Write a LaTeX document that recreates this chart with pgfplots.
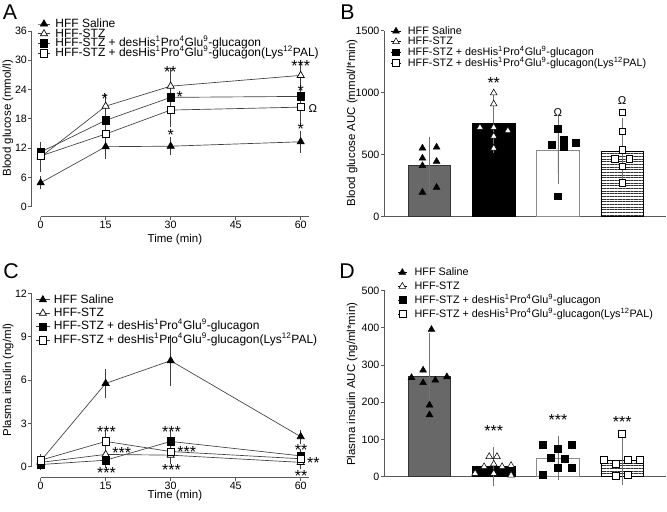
\documentclass[border=0pt]{standalone}
\usepackage{pgfplots}
\pgfplotsset{compat=1.18}
\usepackage{fontspec}
\setmainfont{Liberation Sans}
\usetikzlibrary{patterns.meta}

\definecolor{axgray}{gray}{0.35}
\definecolor{lngray}{gray}{0.25}
\definecolor{ebgray}{gray}{0.45}
\definecolor{barg}{RGB}{104,104,104}

\newcommand{\desH}{HFF-STZ + desHis\textsuperscript{1}Pro\textsuperscript{4}Glu\textsuperscript{9}-glucagon}
\newcommand{\desL}{HFF-STZ + desHis\textsuperscript{1}Pro\textsuperscript{4}Glu\textsuperscript{9}-glucagon(Lys\textsuperscript{12}PAL)}

\tikzset{
  ast/.style={font=\fontsize{12}{12}\selectfont, anchor=base, yshift=-7pt, inner sep=0pt},
  om/.style={font=\fontsize{8.5}{9}\selectfont, anchor=center, inner sep=0pt},
}

\pgfplotsset{
  gp/.style={
    scale only axis, clip=false, enlargelimits=false,
    axis line style={-, draw=axgray, line width=0.6pt},
    tick style={draw=axgray, line width=0.6pt},
    tick align=outside, major tick length=2.25pt, minor tick num=0,
    ticklabel style={font=\fontsize{8}{9}\selectfont, inner sep=1pt},
    /pgf/number format/assume math mode=true,
    /pgf/number format/1000 sep={},
    label style={font=\fontsize{8.6}{9}\selectfont},
  },
  lg/.style={
    legend cell align=left,
    legend style={draw=none, fill=none, inner sep=0pt, outer sep=0pt,
      font=\fontsize{9}{10}\selectfont, anchor=north west,
      nodes={inner sep=0pt, text height=6.4pt, text depth=1.5pt}},
  },
  lgs/.style={
    legend cell align=left,
    legend style={draw=none, fill=none, inner sep=0pt, outer sep=0pt,
      font=\fontsize{8.1}{9}\selectfont, anchor=north west,
      nodes={inner sep=0pt, text height=6.4pt, text depth=1.5pt}},
  },
  ln/.style={draw=lngray, line width=0.5pt,
    /pgfplots/error bars/y dir=both, /pgfplots/error bars/y explicit,
    /pgfplots/error bars/error bar style={lngray, line width=0.5pt},
    /pgfplots/error bars/error mark options={lngray, line width=0.5pt, mark size=3.75pt}},
  eb/.style={
    /pgfplots/error bars/y dir=both, /pgfplots/error bars/y explicit,
    /pgfplots/error bars/error bar style={ebgray, line width=0.6pt},
    /pgfplots/error bars/error mark options={ebgray, line width=0.6pt, mark size=8.1pt}},
  pts/.style={only marks, mark options={draw=black, line width=0.4pt}},
}

\begin{document}
\begin{tikzpicture}
\useasboundingbox (0,0) rectangle (500.25pt,383.25pt);

% ---------------- A ----------------
\begin{axis}[gp, lg, at={(23.6pt,220.7pt)}, anchor=south west,
  width=208.1pt, height=139.3pt,
  xmin=-2.12, xmax=61.9, ymin=-2.05, ymax=36,
  axis x line*=bottom, axis y line*=left,
  x axis line style={shorten <=6.9pt}, y axis line style={shorten <=7.5pt},
  xtick={0,15,30,45,60}, ytick={0,6,12,18,24,30,36},
  xlabel={Time (min)}, ylabel={Blood glucose (mmol/l)},
  xlabel style={at={(rel axis cs:0.517,-0.125)}, anchor=center},
  ylabel style={at={(rel axis cs:-0.0847,0.53)}, anchor=center},
  legend style={at={(0.022,1.066)}, row sep=-0.6pt, /tikz/every odd column/.append style={column sep=3.75pt}},
  legend image code/.code={\draw[mark repeat=2,mark phase=2,#1] plot coordinates {(0cm,0cm) (0.16cm,0cm) (0.32cm,0cm)};},
]
\addplot[ln, mark=triangle*, mark options={draw=black, fill=black, mark size=3.1pt}]
  coordinates {(0,4.9) +- (0,0.3) (15,12.3) +- (0,1.5) (30,12.4) +- (0,0.8) (60,13.3) +- (0,1.2)};
\addlegendentry{HFF Saline}
\addplot[ln, mark=triangle*, mark options={draw=black, fill=white, mark size=3.1pt}]
  coordinates {(0,10.2) +- (0,2.0) (15,20.6) +- (0,1.4) (30,24.7) +- (0,2.7) (60,26.9) +- (0,1.9)};
\addlegendentry{HFF-STZ}
\addplot[ln, mark=square*, mark options={draw=black, fill=black, mark size=2.75pt}]
  coordinates {(0,11.2) +- (0,0.5) (15,17.7) +- (0,1.0) (30,22.4) +- (0,1.2) (60,22.6) +- (0,1.0)};
\addlegendentry{\desH}
\addplot[ln, mark=square*, mark options={draw=black, fill=white, mark size=2.75pt}]
  coordinates {(0,10.4) +- (0,0.6) (15,14.9) +- (0,1.95) (30,19.8) +- (0,2.4) (60,20.4) +- (0,2.2)};
\addlegendentry{\desL}
\node[ast] at (axis cs:14.8,22.9) {*};
\node[ast] at (axis cs:29.9,28.4) {**};
\node[ast] at (axis cs:32.1,23.3) {*};
\node[ast] at (axis cs:30,15.5) {*};
\node[ast] at (axis cs:60,29.7) {***};
\node[ast] at (axis cs:60,24.5) {*};
\node[ast] at (axis cs:60,16.8) {*};
\node[om] at (axis cs:62.8,20.2) {Ω};
\end{axis}

% ---------------- B ----------------
\begin{axis}[gp, lgs, at={(288pt,221pt)}, anchor=south west,
  width=211.5pt, height=139.2pt,
  xmin=-0.709, xmax=3.683, ymin=0, ymax=1500,
  axis x line*=bottom, axis y line*=left,
  xtick=\empty, ytick={0,500,1000,1500},
  ylabel={Blood glucose AUC (mmol/l*min)},
  ylabel style={at={(rel axis cs:-0.1125,0.503)}, anchor=center},
  legend style={at={(0.0256,1.026)}, row sep=0pt, /tikz/every odd column/.append style={column sep=5.3pt}},
  legend image code/.code={\path (0cm,0cm) -- (0.24cm,0cm); \draw[#1] plot coordinates {(0.12cm,0cm)};},
]
\addplot[ybar, bar width=0.66, bar shift=0pt, fill=barg, draw=black!80, line width=0.5pt, forget plot, eb]
  coordinates {(0,412) +- (0,143)};
\addplot[ybar, bar width=0.66, bar shift=0pt, fill=black, draw=black, line width=0.5pt, forget plot, eb]
  coordinates {(1,754) +- (0,153)};
\addplot[ybar, bar width=0.66, bar shift=0pt, fill=white, draw=black!45, line width=0.6pt, forget plot, eb]
  coordinates {(2,533) +- (0,188)};
\addplot[ybar, bar width=0.66, bar shift=0pt, fill=white, pattern={Lines[angle=0,distance=2pt,line width=0.7pt]}, pattern color=black!80, draw=black, line width=0.5pt, forget plot, eb]
  coordinates {(3,522) +- (0,183)};
\addplot[pts, mark=triangle*, mark options={fill=black, mark size=2.9pt}]
  coordinates {(-0.11,551) (0.11,559) (-0.11,470) (0.11,444) (-0.11,409) (0.11,234) (-0.11,194)};
\addlegendentry{HFF Saline}
\addplot[pts, mark=triangle*, mark options={fill=white, mark size=2.9pt}]
  coordinates {(0.785,719) (1,719) (1.22,692) (1,647) (1,550) (1,908) (1,997)};
\addlegendentry{HFF-STZ}
\addplot[pts, mark=square*, mark options={fill=black, mark size=2.5pt}]
  coordinates {(2,705) (1.9,579) (2.09,617) (2.09,558) (2.28,592) (2,161)};
\addlegendentry{\desH}
\addplot[pts, mark=square*, mark options={fill=white, mark size=2.5pt}]
  coordinates {(3,840) (3,687) (3,538) (2.88,463) (3.11,463) (3,404) (3,269)};
\addlegendentry{\desL}
\node[ast] at (axis cs:1,1110) {**};
\node[om] at (axis cs:2,840) {Ω};
\node[om] at (axis cs:3,934) {Ω};
\end{axis}

% ---------------- C ----------------
\begin{axis}[gp, lg, at={(23.6pt,25.1pt)}, anchor=south west,
  width=208.1pt, height=138.1pt,
  xmin=-2.12, xmax=61.9, ymin=-0.75, ymax=12,
  axis x line*=bottom, axis y line*=left,
  x axis line style={shorten <=6.9pt}, y axis line style={shorten <=8.1pt},
  xtick={0,15,30,45,60}, ytick={0,3,6,9,12},
  xlabel={Time (min)}, ylabel={Plasma insulin (ng/ml)},
  xlabel style={at={(rel axis cs:0.517,-0.097)}, anchor=center},
  ylabel style={at={(rel axis cs:-0.084,0.53)}, anchor=center},
  legend style={at={(0.016,0.994)}, row sep=2.2pt, /tikz/every odd column/.append style={column sep=3pt}},
  legend image code/.code={\draw[mark repeat=2,mark phase=2,#1] plot coordinates {(0cm,0cm) (0.175cm,0cm) (0.35cm,0cm)};},
]
\addplot[ln, mark=triangle*, mark options={draw=black, fill=black, mark size=3.1pt}]
  coordinates {(0,0.4) +- (0,0.1) (15,5.77) +- (0,0.65) (30,7.34) +- (0,1.4) (60,2.08) +- (0,0.15)};
\addlegendentry{HFF Saline}
\addplot[ln, mark=triangle*, mark options={draw=black, fill=white, mark size=3.1pt}]
  coordinates {(0,0.3) +- (0,0.05) (15,0.85) +- (0,0.38) (30,0.8) +- (0,0.3) (60,0.3) +- (0,0.1)};
\addlegendentry{HFF-STZ}
\addplot[ln, mark=square*, mark options={draw=black, fill=black, mark size=2.75pt}]
  coordinates {(0,0.15) +- (0,0.05) (15,0.45) +- (0,0.2) (30,1.75) +- (0,0.45) (60,0.75) +- (0,0.15)};
\addlegendentry{\desH}
\addplot[ln, mark=square*, mark options={draw=black, fill=white, mark size=2.75pt}]
  coordinates {(0,0.45) +- (0,0.1) (15,1.75) +- (0,0.45) (30,1.05) +- (0,0.35) (60,0.55) +- (0,0.2)};
\addlegendentry{\desL}
\node[ast] at (axis cs:15.2,2.66) {***};
\node[ast] at (axis cs:18.7,1.2) {***};
\node[ast] at (axis cs:15.2,-0.14) {***};
\node[ast] at (axis cs:30.2,2.66) {***};
\node[ast] at (axis cs:33.7,1.25) {***};
\node[ast] at (axis cs:30.2,0.05) {***};
\node[ast] at (axis cs:60.1,1.39) {**};
\node[ast] at (axis cs:62.9,0.55) {**};
\node[ast] at (axis cs:60.1,-0.37) {**};
\end{axis}

% ---------------- D ----------------
\begin{axis}[gp, lgs, at={(288pt,25.7pt)}, anchor=south west,
  width=211.5pt, height=139.8pt,
  xmin=-0.709, xmax=3.683, ymin=0, ymax=500,
  axis x line*=bottom, axis y line*=left,
  xtick=\empty, ytick={0,100,200,300,400,500},
  ylabel={Plasma insulin AUC (ng/ml*min)},
  ylabel style={at={(rel axis cs:-0.1125,0.496)}, anchor=center},
  legend style={at={(0.048,1.124)}, row sep=2.5pt, /tikz/every odd column/.append style={column sep=5.6pt}},
  legend image code/.code={\path (0cm,0cm) -- (0.24cm,0cm); \draw[#1] plot coordinates {(0.12cm,0cm)};},
]
\addplot[ybar, bar width=0.66, bar shift=0pt, fill=barg, draw=black!80, line width=0.5pt, forget plot, eb]
  coordinates {(0,270) +- (0,87)};
\addplot[ybar, bar width=0.66, bar shift=0pt, fill=black, draw=black, line width=0.5pt, forget plot, eb]
  coordinates {(1,27) +- (0,24)};
\addplot[ybar, bar width=0.66, bar shift=0pt, fill=white, draw=black!45, line width=0.6pt, forget plot, eb]
  coordinates {(2,50) +- (0,30)};
\addplot[ybar, bar width=0.66, bar shift=0pt, fill=white, pattern={Lines[angle=0,distance=2pt,line width=0.7pt]}, pattern color=black!80, draw=black, line width=0.5pt, forget plot, eb]
  coordinates {(3,43) +- (0,36)};
\addplot[pts, mark=triangle*, mark options={fill=black, mark size=2.9pt}]
  coordinates {(0.03,395) (-0.28,266) (0.27,268) (-0.1,286) (-0.1,252) (0.09,259) (0,192) (0,166)};
\addlegendentry{HFF Saline}
\addplot[pts, mark=triangle*, mark options={fill=white, mark size=2.9pt}]
  coordinates {(0.93,54) (1.05,54) (0.85,27) (1,34) (1.13,27) (1.27,30) (0.71,9) (1,9) (1.27,4)};
\addlegendentry{HFF-STZ}
\addplot[pts, mark=square*, mark options={fill=black, mark size=2.6pt}]
  coordinates {(1.77,85) (2,74) (2.21,85) (1.885,52) (2.1,47.5) (2,25) (2.21,25) (1.77,5)};
\addlegendentry{\desH}
\addplot[pts, mark=square*, mark options={fill=white, mark size=2.6pt}]
  coordinates {(3,116) (2.72,45) (3.09,45) (3.28,46) (2.9,34) (2.9,2) (3.09,6)};
\addlegendentry{\desL}
\node[ast] at (axis cs:1,134) {***};
\node[ast] at (axis cs:2,163) {***};
\node[ast] at (axis cs:3,157) {***};
\end{axis}

\node[anchor=base west, inner sep=0pt, font=\fontsize{16}{16}\selectfont] at (2pt,368.25pt) {A};
\node[anchor=base west, inner sep=0pt, font=\fontsize{16}{16}\selectfont] at (255pt,368.25pt) {B};
\node[anchor=base west, inner sep=0pt, font=\fontsize{16}{16}\selectfont] at (2.25pt,174.75pt) {C};
\node[anchor=base west, inner sep=0pt, font=\fontsize{16}{16}\selectfont] at (254.25pt,174.75pt) {D};
\end{tikzpicture}
\end{document}
